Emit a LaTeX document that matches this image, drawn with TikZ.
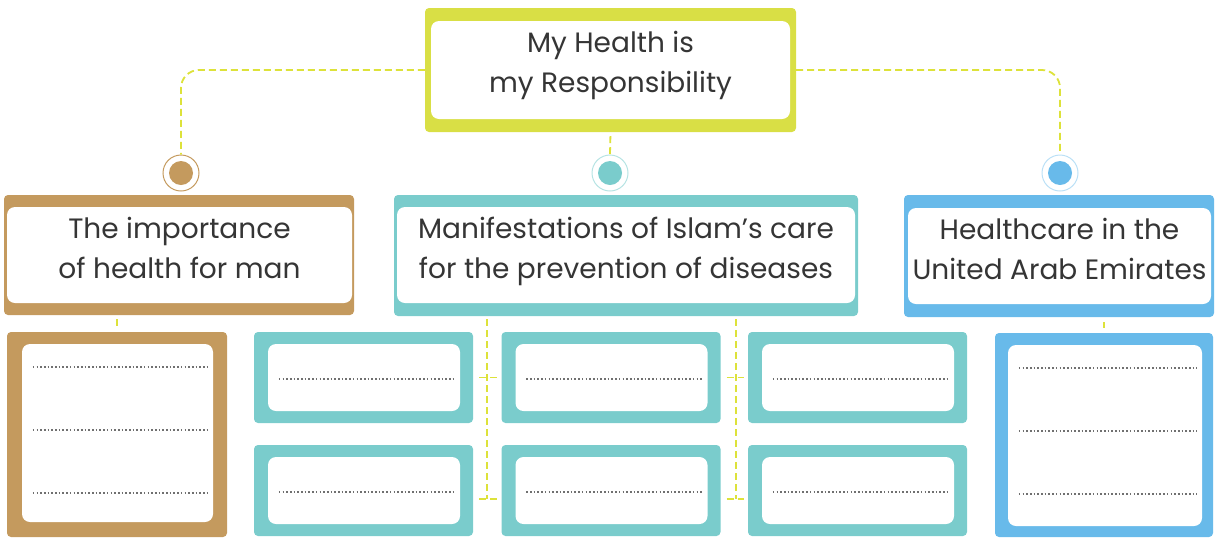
\documentclass[tikz,border=0pt]{standalone}
\usepackage{fontspec}
\setmainfont{Poppins}
\definecolor{limeframe}{HTML}{D9DF45}
\definecolor{brownframe}{HTML}{C49A5E}
\definecolor{tealframe}{HTML}{7ACCCC}
\definecolor{blueframe}{HTML}{68BAEA}
\definecolor{linkyellow}{HTML}{DDE23A}
\definecolor{inkgray}{HTML}{353535}
\definecolor{dotgray}{HTML}{707070}

\begin{document}
\begin{tikzpicture}[
    x=1pt, y=-1pt,
    outerbox/.style={rectangle, rounded corners=4pt, inner sep=0pt, fill=#1},
    paper/.style={rectangle, rounded corners=8pt, inner sep=0pt, fill=white,
        align=center, text=inkgray, font=\fontsize{28}{40}\selectfont},
    heading/.style={paper, text depth=14pt},
    link/.style={draw=linkyellow, line width=1.8pt, dash pattern=on 7pt off 4pt},
    writeline/.style={draw=dotgray, line width=1.8pt, dash pattern=on 1.6pt off 2.1pt},
    hubdot/.style={circle, draw=#1, line width=1pt, minimum size=36pt, inner sep=0pt,
        path picture={\fill[#1] (path picture bounding box.center) circle (12pt);}}
]
    \useasboundingbox (0,0) rectangle (1215,539);

    % title
    \node[outerbox=limeframe, minimum width=371pt, minimum height=124pt] (title) at (610.5,70) {};
    \node[heading, text depth=16pt, minimum width=359pt, minimum height=98pt] (titlein) at (title) {My Health is\\my Responsibility};

    % the three hubs
    \node[hubdot=brownframe] (c1) at (181,173) {};
    \node[hubdot=tealframe, draw=tealframe!55] (c2) at (610,173) {};
    \node[hubdot=blueframe, draw=blueframe!45] (c3) at (1060,173) {};

    % headers
    \node[outerbox=brownframe, minimum width=350pt, minimum height=120pt] (imp) at (179,255) {};
    \node[heading, minimum width=345pt, minimum height=96pt] (impin) at (179.5,255) {The importance\\of health for man};
    \node[outerbox=tealframe, minimum width=464pt, minimum height=121pt] (isl) at (626,255.5) {};
    \node[heading, minimum width=458pt, minimum height=96pt] (islin) at (626,255) {Manifestations of Islam’s care\\for the prevention of diseases};
    \node[outerbox=blueframe, minimum width=310pt, minimum height=122pt] (uae) at (1059,256) {};
    \node[heading, minimum width=303pt, minimum height=96pt] (uaein) at (1059.5,256) {Healthcare in the\\United Arab Emirates};

    % answer boxes
    \node[outerbox=brownframe, minimum width=220pt, minimum height=205pt] (lbox) at (117,434.5) {};
    \node[paper, minimum width=191pt, minimum height=178pt] (lboxin) at (117.5,433) {};
    \node[outerbox=blueframe, minimum width=218pt, minimum height=204pt] (rbox) at (1104,435) {};
    \node[paper, minimum width=194pt, minimum height=181pt] (rboxin) at (1105,435.5) {};
    \foreach \col/\x in {1/363.5, 2/611, 3/857.5} {
        \foreach \row/\y in {1/377.5, 2/490.5} {
            \node[outerbox=tealframe, minimum width=219pt, minimum height=91pt] (t\row\col) at (\x,\y) {};
            \node[paper, minimum width=192pt, minimum height=67pt] (t\row\col-in) at (\x+0.5,\y) {};
        }
    }

    % dotted writing lines
    \foreach \b in {t11,t12,t13,t21,t22,t23}
        \draw[writeline] ([xshift=11pt, yshift=-1.5pt]\b-in.west) -- ([xshift=-5pt, yshift=-1.5pt]\b-in.east);
    \foreach \dy in {66,3,-60}
        \draw[writeline] ([xshift=11pt, yshift=\dy pt]lboxin.west) -- ([xshift=-5pt, yshift=\dy pt]lboxin.east);
    \foreach \dy in {67.5,4.5,-58.5}
        \draw[writeline] ([xshift=11pt, yshift=\dy pt]rboxin.west) -- ([xshift=-5pt, yshift=\dy pt]rboxin.east);

    % connectors
    \draw[link, rounded corners=18pt] (title.west) -| (c1.north);
    \draw[link, rounded corners=18pt] (title.east) -| (c3.north);
    \draw[link, shorten <=4pt] (title.south) -- (c2.north);
    \draw[link, shorten <=4pt, shorten >=6pt] (lbox.north |- imp.south) -- (lbox.north);
    \draw[link, shorten <=5pt, shorten >=5pt] (rbox.north |- uae.south) -- (rbox.north);

    \coordinate (jl) at (487,499);
    \coordinate (jr) at (736,499);
    \draw[link, shorten <=3pt] (jl |- isl.south) -- (jl);
    \draw[link, shorten <=3pt] (jr |- isl.south) -- (jr);
    \draw[link, shorten <=6pt, shorten >=4pt] (t11.east) -- (t12.west);
    \draw[link, shorten <=6pt, shorten >=4pt] (t12.east) -- (t13.west);
    \draw[link, shorten <=6pt, shorten >=4pt] (t21.east |- jl) -- (t22.west |- jl);
    \draw[link, shorten <=6pt, shorten >=4pt] (t22.east |- jr) -- (t23.west |- jr);
\end{tikzpicture}
\end{document}
